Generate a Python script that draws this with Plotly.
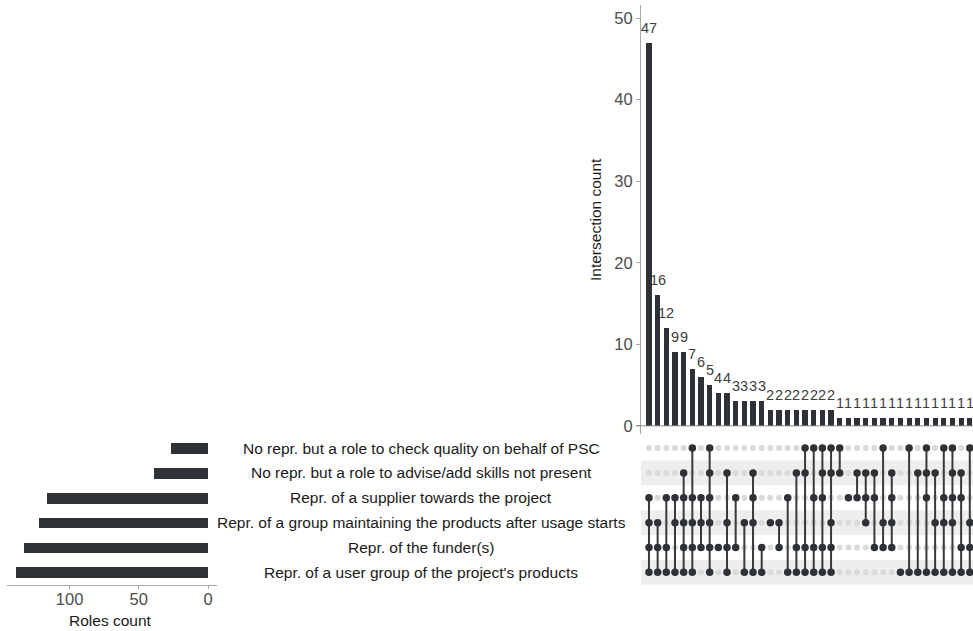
import plotly.graph_objects as go

W, H = 973, 631

# Sets (top to bottom in the matrix)
set_keys = ["QC", "ADV", "SUP", "MNT", "FUN", "USR"]
set_names = [
    "No repr. but a role to check quality on behalf of PSC",
    "No repr. but a role to advise/add skills not present",
    "Repr. of a supplier towards the project",
    "Repr. of a group maintaining the products after usage starts",
    "Repr. of the funder(s)",
    "Repr. of a user group of the project's products",
]
set_sizes = [27, 39, 116, 122, 133, 139]

# Intersections, sorted by size
intersection_counts = [47, 16, 12, 9, 9, 7, 6, 5, 4, 4, 3, 3, 3, 3,
                       2, 2, 2, 2, 2, 2, 2, 2,
                       1, 1, 1, 1, 1, 1, 1, 1, 1, 1, 1, 1, 1, 1, 1, 1]
intersection_sets = [
    ["SUP", "MNT", "FUN", "USR"],
    ["MNT", "FUN", "USR"],
    ["SUP", "FUN", "USR"],
    ["SUP", "MNT", "USR"],
    ["ADV", "SUP", "MNT", "FUN", "USR"],
    ["QC", "SUP", "MNT", "FUN", "USR"],
    ["SUP", "MNT", "FUN"],
    ["QC", "ADV", "SUP", "MNT", "FUN", "USR"],
    ["FUN"],
    ["ADV", "MNT", "FUN", "USR"],
    ["SUP", "FUN"],
    ["MNT", "USR"],
    ["ADV", "SUP", "MNT", "USR"],
    ["FUN", "USR"],
    ["MNT"],
    ["MNT", "FUN"],
    ["SUP", "USR"],
    ["ADV", "FUN", "USR"],
    ["QC", "ADV", "FUN", "USR"],
    ["QC", "SUP", "FUN", "USR"],
    ["QC", "ADV", "SUP", "FUN", "USR"],
    ["QC", "ADV", "MNT", "FUN", "USR"],
    ["QC", "ADV"],
    ["SUP"],
    ["ADV", "SUP"],
    ["ADV", "SUP", "MNT"],
    ["ADV", "SUP", "FUN"],
    ["QC", "MNT", "FUN"],
    ["ADV", "SUP", "MNT", "FUN"],
    ["USR"],
    ["QC", "USR"],
    ["ADV", "USR"],
    ["QC", "ADV", "SUP", "USR"],
    ["ADV", "MNT", "USR"],
    ["QC", "SUP", "MNT", "USR"],
    ["QC", "ADV", "SUP", "MNT", "USR"],
    ["ADV", "SUP", "FUN", "USR"],
    ["QC", "MNT", "FUN", "USR"],
]

DARK = "#2e3135"
GRAY_DOT = "#dadada"
STRIPE = "#eeeeee"
AXIS = "#a8a8a8"
FONT = "Arial, Liberation Sans, sans-serif"
TICK_FONT = dict(family=FONT, size=16.5, color="#4d4d4d")


def px_x(p):
    return p / W


def px_y(p):
    return 1 - p / H


n_sets = len(set_keys)
row_of = {k: n_sets - 1 - i for i, k in enumerate(set_keys)}  # QC on top
cols = list(range(len(intersection_counts)))

fig = go.Figure()

# Intersection size bars
fig.add_trace(go.Bar(x=cols, y=intersection_counts, width=0.6,
                     marker=dict(color=DARK, line=dict(width=0)),
                     xaxis="x", yaxis="y", hoverinfo="skip"))

# Matrix: inactive dots, connecting lines, active dots
gx, gy, dx, dy, lx, ly = [], [], [], [], [], []
for c, members in zip(cols, intersection_sets):
    rows = [row_of[m] for m in members]
    for k in set_keys:
        r = row_of[k]
        if k in members:
            dx.append(c); dy.append(r)
        else:
            gx.append(c); gy.append(r)
    if len(rows) > 1:
        lx += [c, c, None]
        ly += [min(rows), max(rows), None]

fig.add_trace(go.Scatter(x=gx, y=gy, mode="markers",
                         marker=dict(color=GRAY_DOT, size=6),
                         xaxis="x2", yaxis="y2", hoverinfo="skip"))
fig.add_trace(go.Scatter(x=lx, y=ly, mode="lines",
                         line=dict(color="#3a3a3a", width=2),
                         xaxis="x2", yaxis="y2", hoverinfo="skip"))
fig.add_trace(go.Scatter(x=dx, y=dy, mode="markers",
                         marker=dict(color=DARK, size=7.5),
                         xaxis="x2", yaxis="y2", hoverinfo="skip"))

# Set size bars
fig.add_trace(go.Bar(x=set_sizes, y=[row_of[k] for k in set_keys], orientation="h",
                     width=0.43, marker=dict(color=DARK, line=dict(width=0)),
                     xaxis="x3", yaxis="y3", hoverinfo="skip"))

# Geometry
top_x_dom = [px_x(641), 1.0]
col_range = [-0.92, 37.37]
mat_y_dom = [px_y(584.8), px_y(435.6)]
row_range = [-0.5, 5.5]

shapes = []
for k in ["ADV", "MNT", "USR"]:
    r = row_of[k]
    shapes.append(dict(type="rect", xref="paper", yref="y2",
                       x0=px_x(641), x1=1.0, y0=r - 0.5, y1=r + 0.5,
                       fillcolor=STRIPE, line=dict(width=0), layer="below"))
# baseline under intersection bars
shapes.append(dict(type="line", xref="paper", yref="y",
                   x0=px_x(636), x1=1.0, y0=0, y1=0,
                   line=dict(color="#8a8a8a", width=1)))

annotations = []
for c, v in zip(cols, intersection_counts):
    annotations.append(dict(x=c, y=v, xref="x", yref="y", text=str(v),
                            showarrow=False, yanchor="bottom", yshift=5,
                            font=dict(family=FONT, size=14.5, color="#3c3c3c")))
for k, name in zip(set_keys, set_names):
    annotations.append(dict(x=px_x(421), y=row_of[k], xref="paper", yref="y2",
                            text=name, showarrow=False, xanchor="center",
                            yanchor="middle",
                            font=dict(family=FONT, size=15.5, color="#1a1a1a")))
annotations.append(dict(x=px_x(595), y=px_y(220), xref="paper", yref="paper",
                        text="Intersection count", textangle=-90, showarrow=False,
                        xanchor="center", yanchor="middle",
                        font=dict(family=FONT, size=15.5, color="#1a1a1a")))
annotations.append(dict(x=px_x(110), y=px_y(620), xref="paper", yref="paper",
                        text="Roles count", showarrow=False,
                        xanchor="center", yanchor="middle",
                        font=dict(family=FONT, size=15.5, color="#1a1a1a")))

fig.update_layout(
    width=W, height=H,
    margin=dict(l=0, r=0, t=0, b=0),
    paper_bgcolor="white", plot_bgcolor="white",
    showlegend=False,
    bargap=0,
    xaxis=dict(domain=top_x_dom, range=col_range, showticklabels=False,
               showgrid=False, zeroline=False, showline=False, ticks=""),
    yaxis=dict(domain=[px_y(434), px_y(5)], range=[-1, 51.6],
               tickvals=[0, 10, 20, 30, 40, 50], ticks="outside", ticklen=4,
               tickcolor=AXIS, showline=True, linecolor=AXIS, linewidth=1,
               showgrid=False, zeroline=False, tickfont=TICK_FONT),
    xaxis2=dict(domain=top_x_dom, range=col_range, anchor="y2",
                showticklabels=False, showgrid=False, zeroline=False,
                showline=False, ticks=""),
    yaxis2=dict(domain=mat_y_dom, range=row_range, anchor="x2",
                showticklabels=False, showgrid=False, zeroline=False,
                showline=False, ticks=""),
    xaxis3=dict(domain=[px_x(7), px_x(217)], range=[145.2, -6.5], anchor="y3",
                tickvals=[0, 50, 100], ticks="outside", ticklen=3, tickcolor=AXIS,
                ticklabelstandoff=-4,
                showline=True, linecolor=AXIS, linewidth=1, showgrid=False,
                zeroline=False, tickfont=TICK_FONT),
    yaxis3=dict(domain=mat_y_dom, range=row_range, anchor="x3",
                showticklabels=False, showgrid=False, zeroline=False,
                showline=False, ticks=""),
    shapes=shapes,
    annotations=annotations,
)

fig.write_html("out.html")
